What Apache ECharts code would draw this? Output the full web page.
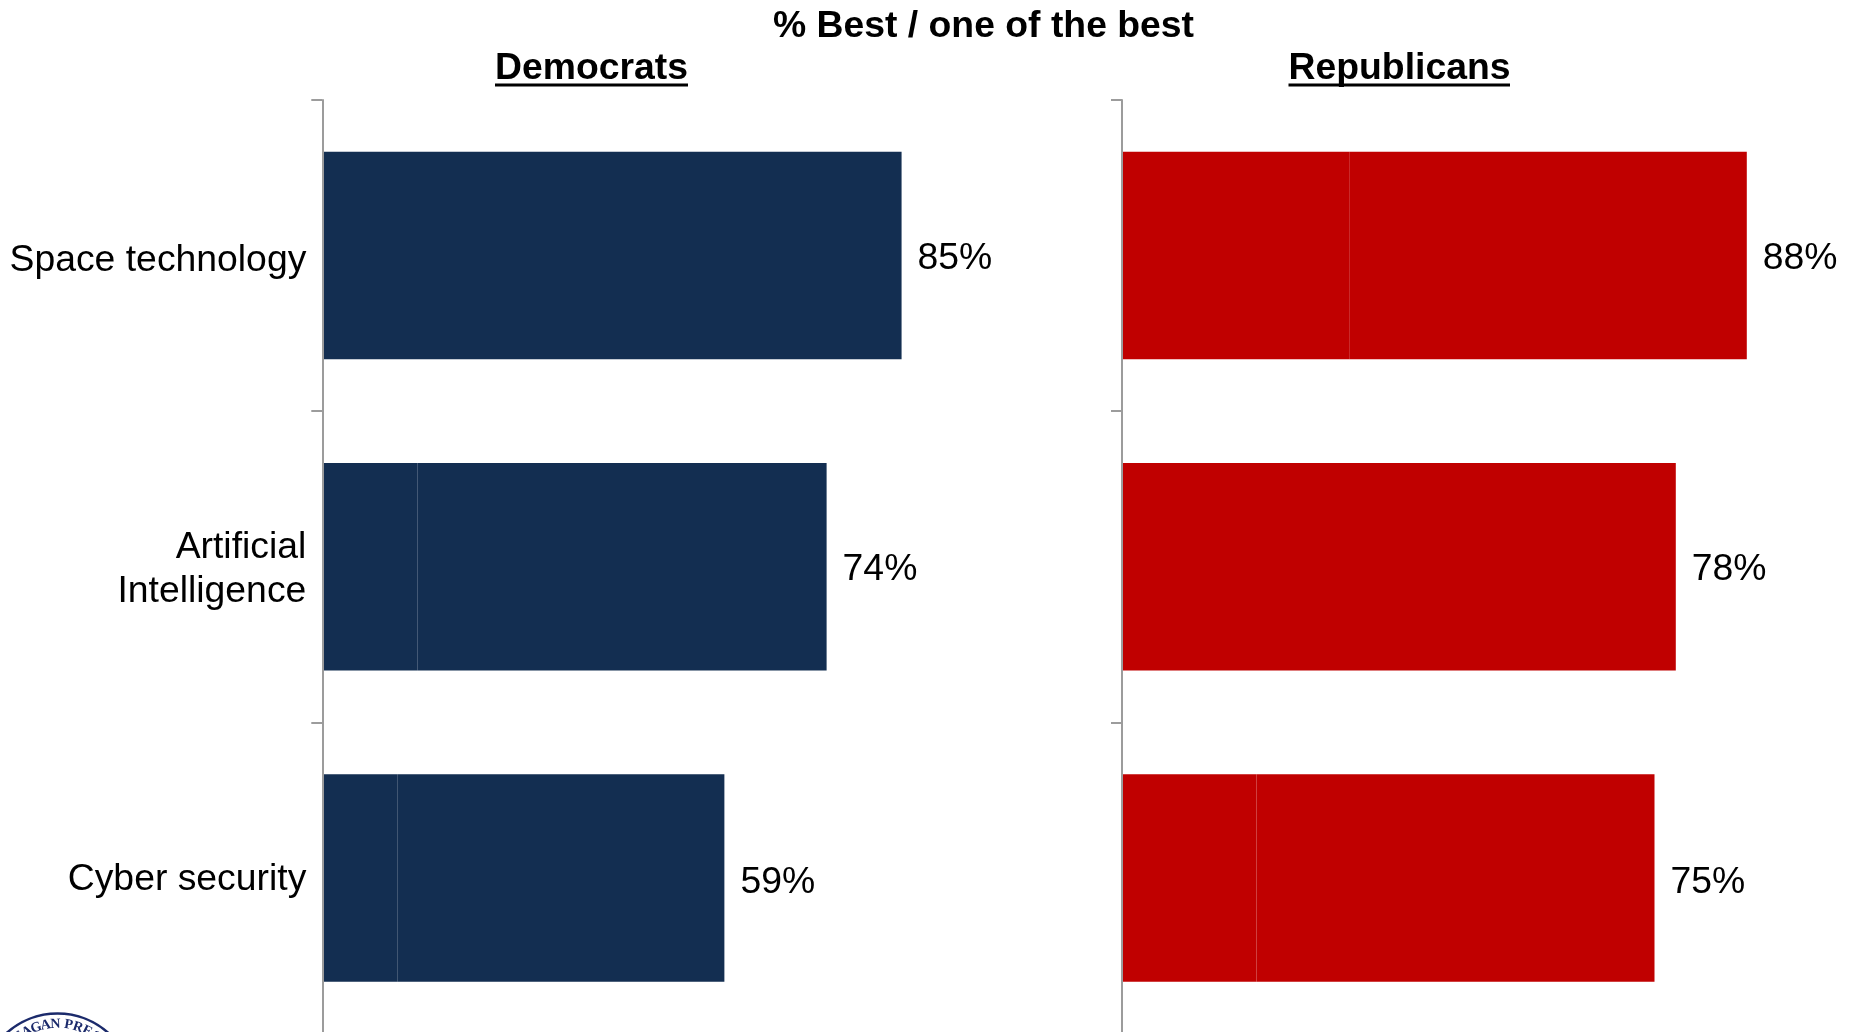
<!DOCTYPE html>
<html>
<head>
<meta charset="utf-8">
<style>html,body{margin:0;padding:0;background:#fff}#c{width:1850px;height:1032px}</style>
<script src="https://cdn.jsdelivr.net/npm/echarts@6/dist/echarts.min.js"></script>
</head>
<body>
<div id="c"></div>
<script>
const categories = ['Space technology', 'Artificial\nIntelligence', 'Cyber security'];
const demFirst = [null, 14, 11];
const demSecond = [85, 60, 48];
const demTotal = [85, 74, 59];
const repFirst = [32, 23.944, 18.95];
const repSecond = [56, 54.056, 56.05];
const repTotal = [88, 78, 75];
const chartTitle = '% Best / one of the best';
const panelTitles = ['Democrats', 'Republicans'];
const sealText = 'REAGAN PRESIDENTIAL';

const FONT = '"Liberation Sans", Arial, sans-serif';
const NAVY = '#132E51';
const RED = '#C00000';
const FS = 37.33;
const categoryPad = [8.9, 6.6, 5.4];
const valueNudge = [3, 3, 4.5];
const chart = echarts.init(document.getElementById('c'), null, {renderer: 'canvas'});

const richLabels = {};
categoryPad.forEach((p, k) => {
  richLabels['c' + k] = {
    color: '#000', fontFamily: FONT, fontSize: FS, align: 'right',
    lineHeight: 44, padding: [p, 0, 0, 0], verticalAlign: 'top'
  };
});
function yAxis(i) {
  return {
    type: 'category', gridIndex: i, inverse: true, z: 5, data: categories,
    axisLine: {show: true, lineStyle: {color: '#9c9c9c', width: 2}},
    axisTick: {show: true, length: 11, lineStyle: {color: '#9c9c9c', width: 2}},
    axisLabel: {
      show: i === 0, color: '#000', fontFamily: FONT, fontSize: FS, margin: 16, align: 'right',
      formatter: (value, index) => value.split('\n').map(line => '{c' + index + '|' + line + '}').join('\n'),
      rich: richLabels
    }
  };
}
function bars(i, name, data, color, totals) {
  return {
    type: 'bar', name, stack: 'p' + i, xAxisIndex: i, yAxisIndex: i, data,
    barCategoryGap: '33.33%', itemStyle: {color}, silent: true, animation: false,
    label: totals ? {
      show: true, position: 'right', distance: 16, color: '#000', fontFamily: FONT, fontSize: FS,
      formatter: p => totals[p.dataIndex] + '%'
    } : {show: false},
    labelLayout: p => ({dy: valueNudge[p.dataIndex]})
  };
}
const seal = [];
const cx = 57.5, cy = 1089.5;
seal.push({type: 'circle', shape: {cx, cy, r: 76}, style: {fill: 'none', stroke: '#1B2A6B', lineWidth: 2.6}});
let deg = 9.7 - 8.6 * 6 - 3;
[...sealText].forEach(ch => {
  if (ch === ' ') { deg += 3; return; }
  const a = deg * Math.PI / 180;
  seal.push({
    type: 'text', x: cx + 65.4 * Math.sin(a), y: cy - 65.4 * Math.cos(a), rotation: -a,
    style: {text: ch, fill: '#1B2A6B', font: 'bold 14px "Liberation Serif", serif', align: 'center', verticalAlign: 'middle'}
  });
  deg += 8.6;
});
const titleStyle = {fontFamily: FONT, fontSize: FS, fontWeight: 'bold', color: '#000'};
chart.setOption({
  animation: false,
  backgroundColor: '#fff',
  title: [
    {text: chartTitle, left: 978.5, top: 3, textAlign: 'center', textStyle: titleStyle},
    {text: panelTitles[0], left: 586.5, top: 45, textAlign: 'center', textStyle: titleStyle},
    {text: panelTitles[1], left: 1394.5, top: 45, textAlign: 'center', textStyle: titleStyle}
  ],
  grid: [
    {left: 322.3, top: 100, width: 681.5, height: 933.6, outerBoundsMode: 'none'},
    {left: 1122, top: 100, width: 710, height: 933.6, outerBoundsMode: 'none'}
  ],
  xAxis: [
    {type: 'value', gridIndex: 0, min: 0, max: 100, show: false},
    {type: 'value', gridIndex: 1, min: 0, max: 100, show: false}
  ],
  yAxis: [yAxis(0), yAxis(1)],
  series: [
    bars(0, 'Democrats A', demFirst, NAVY),
    bars(0, 'Democrats B', demSecond, NAVY, demTotal),
    bars(1, 'Republicans A', repFirst, RED),
    bars(1, 'Republicans B', repSecond, RED, repTotal)
  ],
  graphic: [
    {type: 'rect', shape: {x: 495, y: 83.5, width: 193, height: 3}, style: {fill: '#000'}},
    {type: 'rect', shape: {x: 1288.5, y: 83.5, width: 221.5, height: 3}, style: {fill: '#000'}},
    {type: 'group', children: seal}
  ]
});
</script>
</body>
</html>
